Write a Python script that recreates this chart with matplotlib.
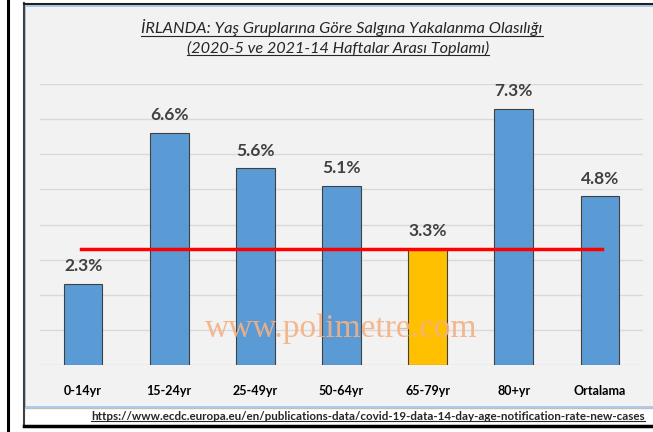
import matplotlib
matplotlib.use("Agg")
import matplotlib.pyplot as plt
from matplotlib.patches import Rectangle
from matplotlib.lines import Line2D

# data
categories = ["0-14yr", "15-24yr", "25-49yr", "50-64yr", "65-79yr", "80+yr", "Ortalama"]
values = [2.3, 6.6, 5.6, 5.1, 3.3, 7.3, 4.8]
labels = ["2.3%", "6.6%", "5.6%", "5.1%", "3.3%", "7.3%", "4.8%"]
highlight = "65-79yr"
ref_value = 3.3

title1 = "İRLANDA: Yaş Gruplarına Göre Salgına Yakalanma Olasılığı"
title2 = "(2020-5 ve 2021-14 Haftalar Arası Toplamı)"
source = "https://www.ecdc.europa.eu/en/publications-data/covid-19-data-14-day-age-notification-rate-new-cases"
watermark = "www.polimetre.com"

plt.rcParams["font.family"] = ["Lato", "DejaVu Sans"]

W, H = 653, 432
fig = plt.figure(figsize=(W / 100, H / 100), dpi=100)
fig.patch.set_facecolor("white")

# frame drawn in pixel coords on a background axes
bg = fig.add_axes([0, 0, 1, 1], zorder=0)
bg.set_xlim(0, W)
bg.set_ylim(H, 0)
bg.axis("off")
bg.add_patch(Rectangle((24, 4), W, 421, facecolor="white", edgecolor="none"))
bg.add_patch(Rectangle((25, 6), W, 401, facecolor="#F2F2F2", edgecolor="#9DC3E6", lw=1.2))
bg.plot([23.5, 23.5], [3, 426], color="#404040", lw=1.5)
bg.plot([23.5, W], [3.5, 3.5], color="#202020", lw=1.5)
bg.plot([23.5, W], [425.5, 425.5], color="black", lw=2.5)
bg.plot([25, W], [407.5, 407.5], color="#BFBFBF", lw=1)
bg.plot([7.5, 7.5], [0, H], color="black", lw=2.2)

ax = fig.add_axes([40 / W, 1 - 365 / H, 603 / W, (365 - 84) / H], zorder=1)
ax.patch.set_visible(False)
x = list(range(len(categories)))
colors = ["#FFC000" if c == highlight else "#5B9BD5" for c in categories]
bars = ax.bar(x, values, width=0.45, color=colors, edgecolor="#404040", linewidth=0.8, zorder=3)
ax.set_xlim(-0.5, len(categories) - 0.5)
ax.set_ylim(0, 8)
ax.set_yticks(range(0, 9))
ax.yaxis.grid(True, color="#D9D9D9", lw=1)
ax.set_axisbelow(True)
ax.tick_params(left=False, labelleft=False, bottom=False)
for s in ax.spines.values():
    s.set_visible(False)
ax.set_xticks(x)
ax.set_xticklabels(categories, fontsize=9, fontweight="bold")
ax.tick_params(axis="x", pad=11)

for b, lab in zip(bars, labels):
    ax.annotate(lab, (b.get_x() + b.get_width() / 2, b.get_height()), xytext=(0, 7),
                textcoords="offset points", ha="center", va="bottom",
                fontsize=12.5, fontweight="bold", color="#404040")

ax.plot([-0.02, len(categories) - 0.98], [ref_value, ref_value], color="#FF0000", lw=2.5, zorder=4)

ax.text(0.5, 0.13, watermark, transform=ax.transAxes, ha="center", va="center",
        fontsize=24, family="Liberation Serif", color="#F4B183", alpha=0.9, zorder=5)

t1 = fig.text(342 / W, 1 - 28 / H, title1, ha="center", va="center", fontsize=11, style="italic", color="#262626")
t2 = fig.text(338 / W, 1 - 48 / H, title2, ha="center", va="center", fontsize=11, style="italic", color="#262626")
t3 = fig.text(645 / W, 1 - 416 / H, source, ha="right", va="center", fontsize=8, fontweight="bold", color="#262626")

# fit widths to the reference, then underline
fig.canvas.draw()
r = fig.canvas.get_renderer()
for t, target in ((t1, 400), (t2, 303), (t3, 557)):
    w = t.get_window_extent(r).width
    t.set_fontsize(t.get_fontsize() * target / w)
fig.canvas.draw()
for t in (t1, t2, t3):
    bb = t.get_window_extent(r)
    y = bb.y0 + 1
    fig.add_artist(Line2D([bb.x0 / W, bb.x1 / W], [y / H, y / H], transform=fig.transFigure,
                          color=t.get_color(), lw=0.8))

fig.savefig("out.png", dpi=100)
